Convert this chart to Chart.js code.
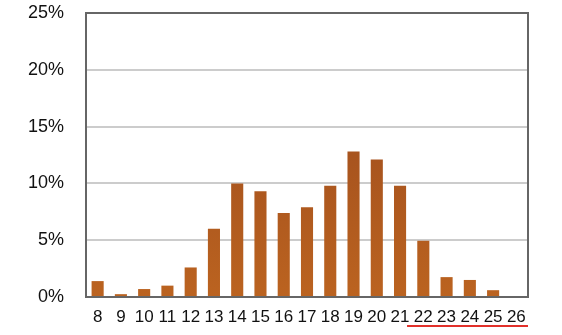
<!DOCTYPE html>
<html>
<head>
<meta charset="utf-8">
<script src="https://cdn.jsdelivr.net/npm/chart.js@4/dist/chart.umd.min.js"></script>
<style>
  html, body { margin: 0; padding: 0; background: #fff; }
  #wrap { width: 562px; height: 335px; position: relative; }
</style>
</head>
<body>
<div id="wrap"><canvas id="chart"></canvas></div>
<script>
// hours of the day and share of the total (%)
const hours = ['8', '9', '10', '11', '12', '13', '14', '15', '16', '17', '18', '19', '20', '21', '22', '23', '24', '25', '26'];
const shares = [1.4, 0.25, 0.7, 1.0, 2.6, 6.0, 10.0, 9.3, 7.4, 7.9, 9.8, 12.8, 12.1, 9.8, 4.95, 1.75, 1.5, 0.6, 0];
const yTicks = [0, 5, 10, 15, 20, 25];
const underlined = ['22', '26']; // first and last label of the red underline

let barFill = null;
function woodGradient(ctx) {
    const chart = ctx.chart;
    const area = chart.chartArea;
    if (!area) return '#b05a20';
    if (!barFill) {
        barFill = chart.ctx.createLinearGradient(0, area.top, 0, area.bottom);
        barFill.addColorStop(0, '#9a481c');
        barFill.addColorStop(0.5, '#a8541e');
        barFill.addColorStop(1, '#bb6320');
    }
    return barFill;
}

// dark frame round the plot area and the red underline under the late hours
const framePlugin = {
    id: 'frame',
    afterDraw(chart) {
        const { ctx, chartArea: a, scales } = chart;
        ctx.save();
        ctx.strokeStyle = '#666666';
        ctx.lineWidth = 2;
        ctx.strokeRect(a.left, a.top, a.right - a.left, a.bottom - a.top);

        const x = scales.x;
        const step = x.getPixelForValue(1) - x.getPixelForValue(0);
        const x0 = x.getPixelForValue(hours.indexOf(underlined[0])) - step * 0.7;
        const x1 = x.getPixelForValue(hours.indexOf(underlined[1])) + step * 0.5;
        ctx.strokeStyle = '#e2302a';
        ctx.lineWidth = 2;
        ctx.beginPath();
        ctx.moveTo(x0, 326);
        ctx.lineTo(x1, 326);
        ctx.stroke();
        ctx.restore();
    }
};

const chart = new Chart(document.getElementById('chart'), {
    type: 'bar',
    data: {
        labels: hours,
        datasets: [{
            data: shares,
            backgroundColor: woodGradient,
            borderWidth: 0,
            barPercentage: 0.52,
            categoryPercentage: 1
        }]
    },
    options: {
        responsive: true,
        maintainAspectRatio: false,
        animation: false,
        layout: { padding: { top: 0, right: 34, bottom: 0, left: 0 } },
        plugins: {
            legend: { display: false },
            tooltip: { enabled: false }
        },
        scales: {
            x: {
                grid: { display: false, drawTicks: false },
                border: { display: true, color: '#666666', width: 2 },
                ticks: {
                    color: '#111111',
                    padding: 10,
                    maxRotation: 0,
                    autoSkip: false,
                    font: { family: 'Liberation Sans', size: 17 }
                },
                afterFit(scale) { scale.height = 38; }
            },
            y: {
                min: 0,
                max: 25,
                afterBuildTicks(scale) {
                    scale.ticks = yTicks.map(v => ({ value: v }));
                },
                grid: { color: '#cccccc', lineWidth: 2, drawTicks: false },
                border: { display: true, color: '#666666', width: 2 },
                ticks: {
                    color: '#111111',
                    padding: 22,
                    font: { family: 'Liberation Sans', size: 18 },
                    callback: v => v + '%'
                },
                afterFit(scale) {
                    scale.width = 86;
                    // tick padding would otherwise push the plot top down
                    scale.paddingTop = 13;
                    scale.paddingBottom = 0;
                }
            }
        }
    },
    plugins: [framePlugin]
});
</script>
</body>
</html>
